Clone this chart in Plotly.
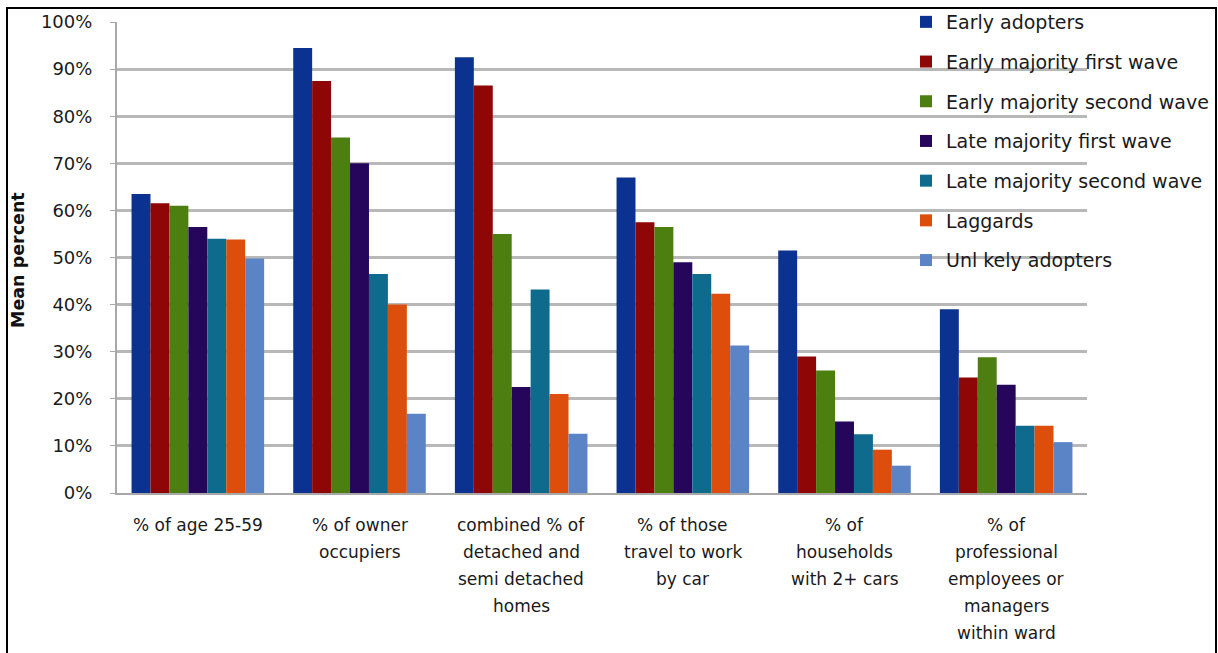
import plotly.graph_objects as go

# Indicators compared across adopter groups
categories = [
    "% of age 25-59",
    "% of owner<br>occupiers",
    "combined % of<br>detached and<br>semi detached<br>homes",
    "% of those<br>travel to work<br>by car",
    "% of<br>households<br>with 2+ cars",
    "% of<br>professional<br>employees or<br>managers<br>within ward",
]

series_names = [
    "Early adopters",
    "Early majority first wave",
    "Early majority second wave",
    "Late majority first wave",
    "Late majority second wave",
    "Laggards",
    "Unl kely adopters",
]

early_adopters = [63.5, 94.5, 92.5, 67.0, 51.5, 39.0]
early_majority_first = [61.5, 87.5, 86.5, 57.5, 29.0, 24.5]
early_majority_second = [61.0, 75.5, 55.0, 56.5, 26.0, 28.8]
late_majority_first = [56.5, 70.0, 22.5, 49.0, 15.2, 23.0]
late_majority_second = [54.0, 46.5, 43.2, 46.5, 12.5, 14.3]
laggards = [53.8, 40.0, 21.0, 42.3, 9.2, 14.3]
unlikely_adopters = [49.8, 16.8, 12.6, 31.3, 5.8, 10.8]

y_ticks = [0, 10, 20, 30, 40, 50, 60, 70, 80, 90, 100]

values = [
    early_adopters,
    early_majority_first,
    early_majority_second,
    late_majority_first,
    late_majority_second,
    laggards,
    unlikely_adopters,
]
colors = ["#0B3290", "#8E0606", "#4D7E10", "#25065A", "#0F6B8E", "#DD4E0C", "#5A84C6"]

FONT = "'DejaVu Sans', sans-serif"
TEXT = "#1a1a1a"

# pixel helpers for the plot area (left 117, right 1087, top 22, bottom 493)
PX_L, PX_R, PX_T, PX_B = 117, 1087, 22, 493


def px_x(px):
    return (px - PX_L) / (PX_R - PX_L)


def px_y(py):
    return (PX_B - py) / (PX_B - PX_T)


fig = go.Figure()
for i, (name, vals, col) in enumerate(zip(series_names, values, colors)):
    fig.add_trace(go.Bar(
        name=name,
        x=categories,
        y=vals,
        marker=dict(color=col, line=dict(width=0)),
        legendgroup=f"g{i}",
    ))

# category labels, one line at a time with generous line spacing
annotations = []
for cat in categories:
    for k, line in enumerate(cat.split("<br>")):
        annotations.append(dict(
            text=line,
            xref="x", yref="paper",
            x=cat, y=px_y(525 + 27 * k),
            xanchor="center", yanchor="middle",
            showarrow=False,
            font=dict(family=FONT, size=17, color=TEXT),
        ))

annotations.append(dict(
    text="<b>Mean percent</b>",
    xref="paper", yref="paper",
    x=px_x(18), y=px_y(260),
    xanchor="center", yanchor="middle",
    textangle=-90,
    showarrow=False,
    font=dict(family=FONT, size=17.5, color="#111111"),
))

fig.update_layout(
    width=1218,
    height=653,
    margin=dict(l=PX_L, r=1218 - PX_R, t=PX_T, b=653 - PX_B, autoexpand=False),
    paper_bgcolor="white",
    plot_bgcolor="white",
    barmode="group",
    bargap=0.18,
    bargroupgap=0,
    font=dict(family=FONT, size=17, color=TEXT),
    showlegend=True,
    legend=dict(
        x=px_x(906),
        xanchor="left",
        y=px_y(3),
        yanchor="top",
        bgcolor="rgba(0,0,0,0)",
        font=dict(family=FONT, size=19, color=TEXT),
        traceorder="grouped",
        tracegroupgap=12,
        itemsizing="constant",
    ),
    xaxis=dict(
        showgrid=False,
        showline=True,
        linecolor="#A8A8A8",
        linewidth=2,
        showticklabels=False,
        ticks="",
    ),
    yaxis=dict(
        range=[0, 100],
        tickvals=y_ticks,
        ticktext=[f"{v}%" for v in y_ticks],
        showgrid=True,
        gridcolor="#B8B8B8",
        gridwidth=3,
        showline=True,
        linecolor="#A8A8A8",
        linewidth=2,
        ticks="outside",
        ticklen=5,
        tickcolor="#A8A8A8",
        ticklabelstandoff=14,
        tickfont=dict(family=FONT, size=18, color=TEXT),
        zeroline=False,
    ),
    annotations=annotations,
    shapes=[
        # blank panel behind the legend that hides the upper gridlines' ends
        dict(
            type="rect",
            xref="paper", yref="paper",
            x0=px_x(912), x1=px_x(1100),
            y0=px_y(282), y1=px_y(10),
            line=dict(width=0),
            fillcolor="white",
            layer="between",
        ),
        # outer frame
        dict(
            type="rect",
            xref="paper", yref="paper",
            x0=px_x(7), x1=px_x(1216),
            y0=px_y(700), y1=px_y(8),
            line=dict(color="black", width=2),
            fillcolor="rgba(0,0,0,0)",
            layer="above",
        ),
    ],
)

fig.write_html("out.html")
